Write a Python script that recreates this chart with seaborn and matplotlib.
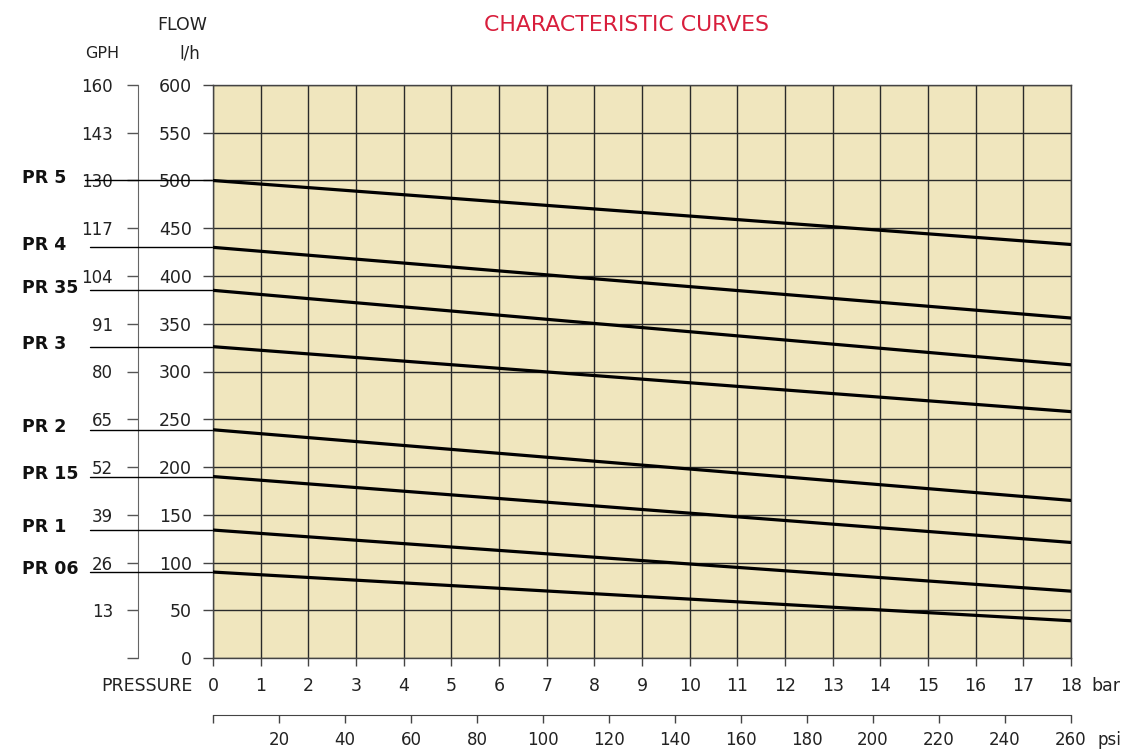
import numpy as np
import pandas as pd
import matplotlib.pyplot as plt
import seaborn as sns
import matplotlib.transforms as mtransforms

# curve data (flow in l/h at 0 and 18 bar)
models = ['PR 5', 'PR 4', 'PR 35', 'PR 3', 'PR 2', 'PR 15', 'PR 1', 'PR 06']
pressure = [0, 18]
flow_at_0 = [500, 430, 385, 326, 239, 190, 134, 90]
flow_at_18 = [433, 356, 307, 258, 165, 121, 70, 39]

bar_ticks = list(range(0, 19))
lh_ticks = list(range(0, 601, 50))
gph_labels = ['', '13', '26', '39', '52', '65', '80', '91', '104', '117', '130', '143', '160']
psi_ticks = list(range(0, 261, 20))

rows = []
for m, a, b in zip(models, flow_at_0, flow_at_18):
    rows.append({'model': m, 'bar': pressure[0], 'flow': a})
    rows.append({'model': m, 'bar': pressure[1], 'flow': b})
df = pd.DataFrame(rows)

sns.set_style('white')
plt.rcParams['font.family'] = ['DejaVu Sans']
txt = '#222222'

W, H = 1124, 749
fig = plt.figure(figsize=(W / 100, H / 100), dpi=100)
ax = fig.add_axes([213 / W, 1 - 658 / H, 858 / W, 573 / H])
ax.set_facecolor('#f0e6be')

sns.lineplot(data=df, x='bar', y='flow', hue='model', palette=['black'] * len(models),
             lw=2.3, ax=ax, legend=False, zorder=3)

ax.set_xlim(0, 18)
ax.set_ylim(0, 600)
ax.set_xticks(bar_ticks)
ax.set_yticks(lh_ticks)
ax.set_xlabel('')
ax.set_ylabel('')
ax.grid(True, color='#2a2a2a', lw=1)
ax.set_axisbelow(True)
for s in ax.spines.values():
    s.set_color('#444444')
    s.set_linewidth(1)
ax.tick_params(axis='x', bottom=True, direction='out', length=5.8, width=1, color='#444444',
               labelsize=12.5, labelcolor=txt, pad=8)
ax.tick_params(axis='y', left=True, direction='out', length=7.2, width=1, color='#444444',
               labelsize=12.5, labelcolor=txt, pad=8)

# GPH axis
gph = ax.secondary_yaxis(-75 / 858, functions=(lambda v: v, lambda v: v))
gph.set_yticks(lh_ticks, labels=gph_labels)
gph.tick_params(length=8, width=1, color='#555555', labelsize=12, labelcolor=txt, pad=10)
gph.spines['left'].set_color('#666666')

# psi axis
psi = ax.secondary_xaxis(-57 / 573, functions=(lambda b: b * 260 / 18, lambda p: p * 18 / 260))
psi.set_xticks(psi_ticks, labels=[''] + [str(p) for p in psi_ticks[1:]])
psi.tick_params(length=5.8, width=1, color='#444444', labelsize=12, labelcolor=txt, pad=6)
psi.spines['bottom'].set_color('#444444')

# unit texts
ax.annotate('bar', xy=(1, 0), xycoords='axes fraction', xytext=(15, -20),
            textcoords='offset points', ha='left', va='center', fontsize=12.5, color=txt)
ax.annotate('psi', xy=(1, 0), xycoords='axes fraction', xytext=(19, -59),
            textcoords='offset points', ha='left', va='center', fontsize=12, color=txt)
ax.annotate('PRESSURE', xy=(0, 0), xycoords='axes fraction', xytext=(-14.5, -20),
            textcoords='offset points', ha='right', va='center', fontsize=12.5, color=txt)

fig.text(182 / W, 1 - 25 / H, 'FLOW', ha='center', va='center', fontsize=12.5, color=txt)
fig.text(102 / W, 1 - 54 / H, 'GPH', ha='center', va='center', fontsize=11.5, color=txt)
fig.text(190 / W, 1 - 54 / H, 'l/h', ha='center', va='center', fontsize=12, color=txt)
fig.text(626 / W, 1 - 25 / H, 'CHARACTERISTIC CURVES', ha='center', va='center',
         fontsize=15.8, color='#d81e3c')

# model labels with leader lines
lead = mtransforms.blended_transform_factory(ax.transAxes, ax.transData)
for m, v in zip(models, flow_at_0):
    x0 = -128 / 858 if m == 'PR 5' else -123 / 858
    ax.plot([x0, 0], [v, v], transform=lead, clip_on=False, color='black', lw=1)
    ax.annotate(m, xy=(22 / W, v), xycoords=('figure fraction', 'data'), xytext=(0, 2),
                textcoords='offset points', ha='left', va='center', fontsize=12.5,
                fontweight='bold', color='#111111')

fig.savefig('out.png', dpi=100)
